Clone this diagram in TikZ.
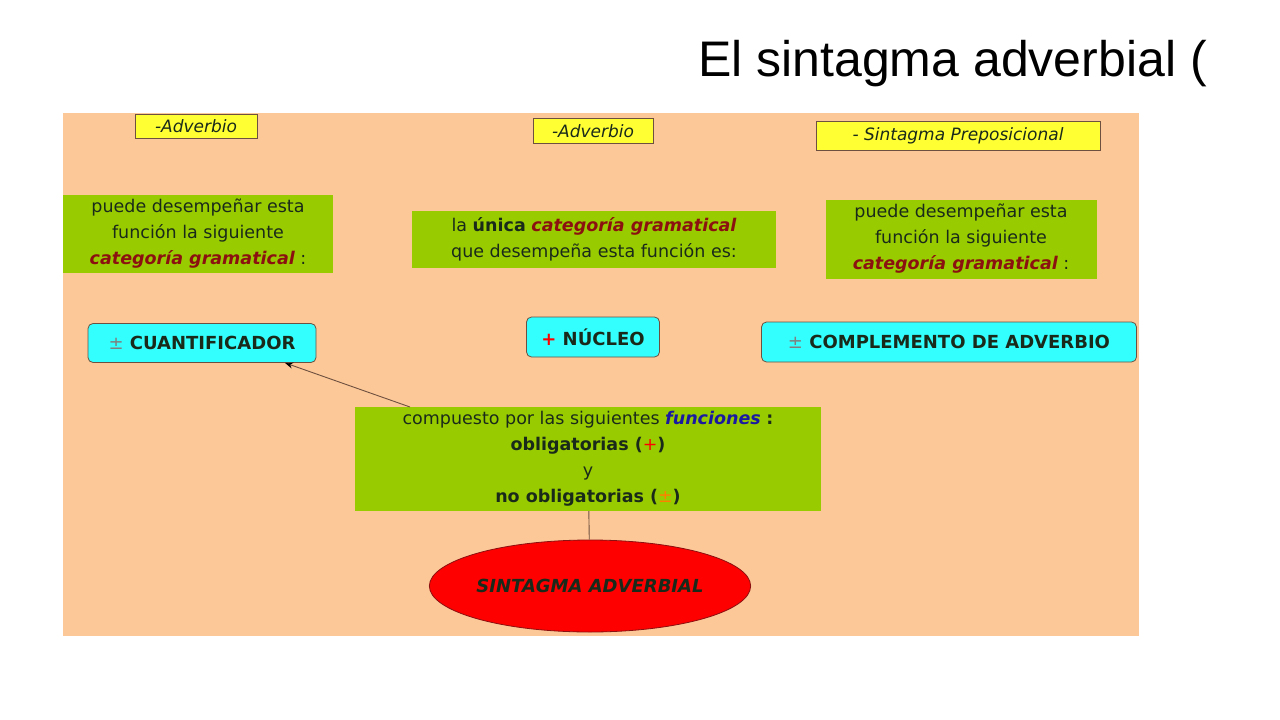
\documentclass[tikz,border=0pt]{standalone}
\usepackage{fontspec}
\setmainfont{DejaVu Sans}
\newfontfamily\titlefont{Liberation Sans}
\usetikzlibrary{shapes.geometric,arrows.meta}
\definecolor{bg}{HTML}{FCC898}
\definecolor{grn}{HTML}{99CC00}
\definecolor{cyn}{HTML}{33FFFF}
\definecolor{yel}{HTML}{FFFF33}
\definecolor{dred}{HTML}{8B1010}
\definecolor{dblue}{HTML}{1A1AA0}
\definecolor{lnk}{HTML}{6E5040}
\definecolor{txt}{HTML}{1A2A1A}
\tikzset{
  yb/.style={fill=yel,draw=lnk,line width=0.8pt,inner sep=1pt,font=\fontsize{17}{20}\selectfont\itshape,text=txt},
  gb/.style={fill=grn,inner sep=2pt,align=center,font=\fontsize{17.5}{26}\selectfont,text=txt},
  cb/.style={fill=cyn,draw=lnk,line width=0.8pt,rounded corners=5pt,font=\fontsize{18}{20}\selectfont\bfseries,text=txt},
  lk/.style={draw=lnk,line width=0.9pt},
  ar/.style={lk,-{Stealth[length=8pt,width=6pt,color=black]}},
}
\begin{document}
\begin{tikzpicture}[x=1pt,y=-1pt]
\useasboundingbox (0,0) rectangle (1280,720);
\fill[white] (0,0) rectangle (1280,720);
\fill[bg] (63,113) rectangle (1139,636);
\node[anchor=base west,inner sep=0,font=\titlefont\fontsize{50}{56}\selectfont] (title) at (698,76) {El sintagma adverbial (};
\node[yb,minimum width=122pt,minimum height=24pt] (a1) at (196,126) {-Adverbio};
\node[yb,minimum width=120pt,minimum height=25pt] (a2) at (593,131) {-Adverbio};
\node[yb,minimum width=284pt,minimum height=29pt] (a3) at (958,136) {- Sintagma Preposicional};
\node[gb,minimum width=270pt,minimum height=78pt] (g1) at (198,234) {puede desempeñar esta\\función la siguiente\\{\color{dred}\bfseries\itshape categoría gramatical} :};
\node[gb,minimum width=364pt,minimum height=57pt] (g2) at (594,239) {la \textbf{única} {\color{dred}\bfseries\itshape categoría gramatical}\\que desempeña esta función es:};
\node[gb,minimum width=271pt,minimum height=79pt] (g3) at (961,239) {puede desempeñar esta\\función la siguiente\\{\color{dred}\bfseries\itshape categoría gramatical} :};
\node[cb,minimum width=228pt,minimum height=39pt] (c1) at (202,343) {{\mdseries\color{gray}±} CUANTIFICADOR};
\node[cb,minimum width=133pt,minimum height=40pt] (c2) at (593,337) {{\color{red}+} NÚCLEO};
\node[cb,minimum width=375pt,minimum height=40pt] (c3) at (949,342) {{\mdseries\color{gray}±} COMPLEMENTO DE ADVERBIO};
\node[gb,minimum width=466pt,minimum height=104pt] (g4) at (588,459) {compuesto por las siguientes {\color{dblue}\bfseries\itshape funciones} \textbf{:}\\\textbf{obligatorias (}{\color{red}+}\textbf{)}\\y\\\textbf{no obligatorias (}{\color{orange}±}\textbf{)}};
\node[ellipse,fill=red,draw=dred,line width=0.8pt,minimum width=311pt,minimum height=92pt,inner sep=0,font=\fontsize{18}{20}\selectfont\bfseries\itshape,text=txt] (e) at (590,586) {SINTAGMA ADVERBIAL};
\coordinate (s1) at (410,407);
\coordinate (s2) at (590,407);
\coordinate (s3) at (752,407);
\draw[ar] (s1) -- (c1.south east -| 285,0) ;
\draw[lk] (g4) -- (e);
\end{tikzpicture}
\end{document}
